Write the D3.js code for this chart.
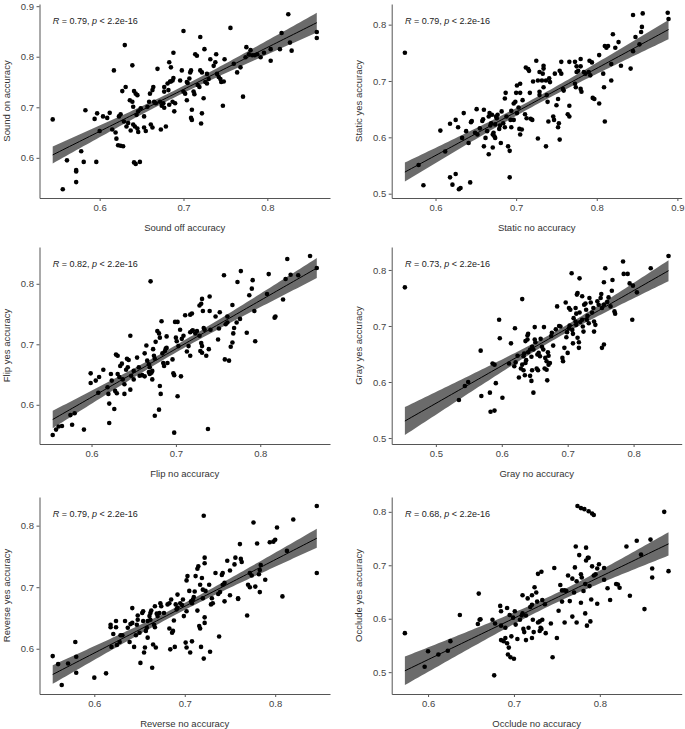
<!DOCTYPE html>
<html><head><meta charset="utf-8">
<script src="https://cdn.jsdelivr.net/npm/d3@7"></script>
<style>
body{margin:0;background:#fff;}
svg{display:block;font-family:"Liberation Sans",Arial,sans-serif;}
</style></head>
<body><svg id="chart" width="685" height="729"></svg>
<script>
// ---------- DATA ----------
const soundOff = [0.544,0.556,0.561,0.572,0.572,0.572,0.578,0.581,0.583,0.594,0.596,0.597,0.600,0.604,0.609,0.612,0.617,0.615,0.619,0.620,0.622,0.625,0.628,0.623,0.625,0.627,0.630,0.631,0.629,0.632,0.634,0.637,0.639,0.636,0.639,0.640,0.641,0.643,0.645,0.641,0.643,0.648,0.640,0.642,0.645,0.646,0.644,0.646,0.649,0.653,0.653,0.655,0.657,0.659,0.660,0.663,0.664,0.661,0.663,0.665,0.667,0.669,0.672,0.674,0.676,0.677,0.673,0.677,0.677,0.679,0.681,0.682,0.683,0.685,0.684,0.685,0.687,0.688,0.683,0.687,0.689,0.690,0.688,0.696,0.698,0.700,0.700,0.702,0.704,0.705,0.704,0.707,0.708,0.709,0.710,0.710,0.709,0.712,0.713,0.714,0.716,0.717,0.719,0.720,0.720,0.722,0.721,0.722,0.724,0.725,0.726,0.728,0.730,0.728,0.732,0.736,0.738,0.739,0.740,0.742,0.744,0.745,0.748,0.747,0.749,0.756,0.760,0.764,0.768,0.771,0.774,0.775,0.778,0.780,0.782,0.785,0.788,0.792,0.796,0.804,0.804,0.815,0.817,0.825,0.827,0.829,0.859,0.859];
const soundOn = [0.676,0.538,0.595,0.576,0.573,0.552,0.613,0.592,0.694,0.677,0.592,0.688,0.653,0.682,0.679,0.689,0.773,0.656,0.650,0.638,0.625,0.624,0.623,0.682,0.686,0.732,0.823,0.740,0.672,0.662,0.669,0.654,0.783,0.714,0.711,0.701,0.732,0.727,0.724,0.591,0.588,0.592,0.666,0.662,0.658,0.651,0.685,0.692,0.698,0.682,0.660,0.653,0.701,0.711,0.727,0.734,0.740,0.666,0.660,0.711,0.708,0.776,0.711,0.703,0.708,0.699,0.656,0.740,0.731,0.662,0.747,0.734,0.789,0.779,0.751,0.751,0.753,0.758,0.705,0.711,0.692,0.708,0.808,0.753,0.773,0.851,0.731,0.727,0.750,0.748,0.714,0.757,0.769,0.773,0.695,0.675,0.679,0.731,0.726,0.805,0.802,0.744,0.740,0.839,0.773,0.769,0.668,0.688,0.718,0.815,0.750,0.747,0.756,0.766,0.795,0.782,0.789,0.805,0.766,0.760,0.756,0.750,0.751,0.703,0.795,0.857,0.786,0.769,0.779,0.721,0.799,0.819,0.805,0.813,0.803,0.803,0.805,0.799,0.808,0.792,0.815,0.815,0.847,0.884,0.828,0.812,0.849,0.837];

const staticNo = [0.562,0.579,0.585,0.606,0.612,0.618,0.618,0.621,0.625,0.625,0.628,0.629,0.631,0.633,0.635,0.638,0.641,0.643,0.644,0.645,0.649,0.651,0.652,0.655,0.658,0.659,0.660,0.660,0.662,0.664,0.666,0.666,0.667,0.668,0.669,0.670,0.671,0.671,0.672,0.673,0.674,0.674,0.675,0.676,0.677,0.679,0.680,0.681,0.682,0.684,0.686,0.686,0.687,0.688,0.690,0.692,0.692,0.693,0.694,0.694,0.697,0.697,0.699,0.700,0.701,0.701,0.703,0.704,0.705,0.707,0.705,0.705,0.708,0.711,0.713,0.712,0.715,0.716,0.717,0.718,0.720,0.721,0.725,0.727,0.729,0.727,0.729,0.729,0.732,0.733,0.734,0.734,0.734,0.737,0.738,0.739,0.737,0.740,0.741,0.742,0.746,0.747,0.748,0.750,0.752,0.752,0.753,0.754,0.754,0.756,0.756,0.758,0.759,0.764,0.766,0.766,0.766,0.773,0.775,0.773,0.774,0.775,0.777,0.780,0.780,0.780,0.781,0.784,0.786,0.790,0.792,0.791,0.794,0.795,0.797,0.803,0.803,0.808,0.809,0.810,0.810,0.812,0.814,0.818,0.818,0.820,0.823,0.827,0.830,0.842,0.845,0.845,0.848,0.853,0.855,0.856,0.857,0.888,0.889];
const staticYes = [0.750,0.551,0.515,0.612,0.575,0.624,0.529,0.516,0.631,0.535,0.618,0.508,0.510,0.599,0.643,0.611,0.590,0.520,0.627,0.629,0.608,0.650,0.605,0.616,0.629,0.632,0.584,0.649,0.599,0.611,0.570,0.637,0.643,0.621,0.625,0.640,0.582,0.605,0.608,0.602,0.599,0.623,0.637,0.634,0.640,0.615,0.621,0.590,0.646,0.625,0.618,0.669,0.679,0.637,0.584,0.576,0.529,0.631,0.618,0.647,0.660,0.631,0.663,0.679,0.692,0.643,0.653,0.615,0.605,0.614,0.679,0.695,0.666,0.641,0.634,0.724,0.721,0.718,0.679,0.633,0.631,0.699,0.736,0.701,0.716,0.598,0.681,0.675,0.701,0.713,0.727,0.722,0.689,0.701,0.675,0.663,0.584,0.628,0.705,0.698,0.637,0.631,0.713,0.657,0.668,0.618,0.625,0.596,0.718,0.713,0.734,0.686,0.683,0.641,0.637,0.656,0.734,0.734,0.726,0.695,0.689,0.716,0.718,0.726,0.739,0.686,0.681,0.716,0.713,0.716,0.710,0.736,0.733,0.670,0.668,0.746,0.660,0.713,0.689,0.628,0.762,0.759,0.762,0.701,0.730,0.783,0.759,0.769,0.727,0.722,0.753,0.817,0.778,0.765,0.787,0.796,0.820,0.821,0.810];

const flipNo = [0.554,0.558,0.561,0.565,0.575,0.577,0.580,0.591,0.599,0.599,0.605,0.609,0.614,0.608,0.619,0.620,0.621,0.621,0.623,0.624,0.627,0.628,0.630,0.629,0.631,0.631,0.633,0.634,0.636,0.637,0.639,0.639,0.641,0.643,0.642,0.644,0.646,0.646,0.647,0.650,0.650,0.654,0.656,0.657,0.660,0.663,0.663,0.665,0.666,0.668,0.669,0.668,0.669,0.671,0.672,0.670,0.672,0.673,0.674,0.675,0.675,0.676,0.678,0.680,0.681,0.680,0.681,0.682,0.683,0.684,0.685,0.686,0.687,0.688,0.689,0.689,0.690,0.696,0.697,0.698,0.698,0.700,0.701,0.699,0.702,0.702,0.703,0.705,0.706,0.707,0.709,0.711,0.713,0.715,0.717,0.719,0.720,0.717,0.719,0.717,0.723,0.725,0.728,0.730,0.731,0.728,0.730,0.731,0.729,0.731,0.732,0.733,0.734,0.736,0.738,0.739,0.740,0.740,0.741,0.747,0.750,0.751,0.752,0.757,0.758,0.759,0.761,0.761,0.763,0.765,0.767,0.768,0.769,0.767,0.772,0.773,0.776,0.777,0.784,0.787,0.790,0.791,0.793,0.794,0.808,0.810,0.817,0.818,0.827,0.830,0.832,0.836,0.845,0.859,0.867];
const flipYes = [0.550,0.559,0.564,0.565,0.583,0.567,0.586,0.559,0.652,0.636,0.640,0.646,0.658,0.620,0.629,0.618,0.602,0.570,0.651,0.640,0.593,0.623,0.619,0.683,0.681,0.651,0.646,0.664,0.668,0.642,0.634,0.618,0.658,0.662,0.676,0.674,0.714,0.625,0.648,0.656,0.642,0.678,0.662,0.648,0.649,0.647,0.685,0.698,0.673,0.667,0.662,0.654,0.651,0.653,0.656,0.804,0.642,0.692,0.681,0.676,0.582,0.704,0.722,0.718,0.711,0.592,0.631,0.618,0.738,0.685,0.669,0.664,0.689,0.693,0.694,0.713,0.669,0.675,0.652,0.649,0.554,0.711,0.705,0.737,0.737,0.614,0.697,0.724,0.647,0.709,0.714,0.748,0.688,0.697,0.720,0.722,0.723,0.749,0.751,0.681,0.718,0.722,0.764,0.767,0.775,0.714,0.702,0.697,0.689,0.686,0.755,0.727,0.724,0.681,0.560,0.692,0.779,0.755,0.724,0.746,0.708,0.726,0.753,0.814,0.675,0.733,0.736,0.746,0.673,0.696,0.703,0.718,0.727,0.765,0.736,0.803,0.742,0.821,0.719,0.781,0.792,0.806,0.755,0.705,0.783,0.816,0.744,0.746,0.774,0.808,0.841,0.815,0.814,0.846,0.826];

const grayNo = [0.453,0.535,0.544,0.549,0.568,0.569,0.582,0.583,0.586,0.589,0.589,0.591,0.596,0.597,0.601,0.611,0.614,0.619,0.620,0.621,0.624,0.626,0.629,0.631,0.633,0.631,0.633,0.634,0.635,0.636,0.637,0.636,0.639,0.639,0.640,0.640,0.643,0.643,0.645,0.645,0.646,0.646,0.648,0.648,0.650,0.650,0.651,0.653,0.655,0.654,0.656,0.658,0.659,0.661,0.663,0.664,0.665,0.666,0.668,0.668,0.669,0.670,0.671,0.671,0.673,0.675,0.676,0.678,0.682,0.684,0.687,0.689,0.692,0.693,0.695,0.697,0.698,0.699,0.702,0.703,0.700,0.702,0.704,0.706,0.707,0.708,0.708,0.709,0.712,0.713,0.712,0.713,0.714,0.715,0.715,0.717,0.717,0.718,0.718,0.719,0.722,0.723,0.722,0.724,0.725,0.727,0.728,0.729,0.730,0.732,0.733,0.735,0.737,0.739,0.740,0.740,0.742,0.745,0.747,0.750,0.751,0.752,0.755,0.752,0.755,0.755,0.757,0.760,0.762,0.765,0.767,0.768,0.771,0.772,0.784,0.785,0.791,0.794,0.799,0.798,0.805,0.826,0.853];
const grayYes = [0.769,0.568,0.593,0.600,0.656,0.575,0.581,0.547,0.633,0.631,0.549,0.598,0.711,0.678,0.572,0.633,0.669,0.628,0.696,0.635,0.647,0.608,0.624,0.631,0.621,0.748,0.646,0.651,0.612,0.634,0.639,0.673,0.676,0.683,0.686,0.653,0.658,0.611,0.602,0.645,0.621,0.663,0.658,0.581,0.698,0.676,0.671,0.624,0.621,0.649,0.652,0.646,0.677,0.663,0.658,0.698,0.624,0.643,0.637,0.622,0.603,0.653,0.647,0.631,0.634,0.682,0.688,0.665,0.694,0.735,0.700,0.699,0.643,0.637,0.661,0.742,0.680,0.689,0.696,0.701,0.652,0.732,0.729,0.794,0.693,0.686,0.669,0.714,0.732,0.722,0.708,0.702,0.756,0.759,0.679,0.671,0.661,0.785,0.724,0.707,0.711,0.699,0.753,0.690,0.738,0.740,0.729,0.711,0.718,0.705,0.750,0.742,0.724,0.732,0.708,0.690,0.702,0.744,0.738,0.750,0.757,0.732,0.738,0.661,0.667,0.778,0.803,0.743,0.751,0.735,0.763,0.782,0.726,0.722,0.815,0.793,0.793,0.776,0.772,0.711,0.760,0.803,0.825];

const reverseNo = [0.554,0.560,0.564,0.571,0.579,0.580,0.580,0.600,0.613,0.618,0.618,0.619,0.621,0.624,0.624,0.625,0.628,0.629,0.631,0.634,0.637,0.639,0.640,0.642,0.642,0.644,0.646,0.647,0.648,0.648,0.650,0.651,0.653,0.654,0.654,0.655,0.656,0.657,0.658,0.659,0.659,0.661,0.662,0.662,0.663,0.664,0.665,0.666,0.667,0.667,0.668,0.669,0.670,0.672,0.673,0.674,0.677,0.681,0.683,0.683,0.684,0.685,0.686,0.687,0.688,0.689,0.690,0.691,0.692,0.692,0.695,0.697,0.698,0.699,0.701,0.702,0.702,0.702,0.703,0.705,0.706,0.708,0.707,0.708,0.709,0.710,0.711,0.712,0.714,0.715,0.714,0.716,0.717,0.717,0.719,0.718,0.720,0.720,0.721,0.721,0.722,0.722,0.722,0.722,0.723,0.727,0.728,0.729,0.730,0.731,0.734,0.737,0.738,0.739,0.741,0.742,0.742,0.744,0.744,0.747,0.750,0.750,0.755,0.756,0.759,0.759,0.761,0.762,0.763,0.769,0.770,0.772,0.772,0.774,0.776,0.778,0.780,0.782,0.783,0.783,0.784,0.789,0.794,0.798,0.800,0.802,0.808,0.813,0.820,0.846,0.846];
const reverseYes = [0.588,0.575,0.541,0.576,0.611,0.587,0.561,0.553,0.560,0.639,0.635,0.603,0.624,0.645,0.635,0.606,0.611,0.622,0.622,0.645,0.634,0.611,0.640,0.642,0.666,0.603,0.622,0.639,0.647,0.654,0.626,0.577,0.658,0.661,0.645,0.594,0.602,0.629,0.634,0.618,0.645,0.653,0.647,0.658,0.662,0.569,0.607,0.639,0.635,0.669,0.602,0.657,0.653,0.658,0.674,0.669,0.658,0.672,0.674,0.633,0.599,0.680,0.626,0.629,0.646,0.603,0.672,0.664,0.667,0.688,0.674,0.671,0.680,0.653,0.610,0.602,0.661,0.711,0.718,0.694,0.594,0.612,0.677,0.674,0.680,0.684,0.693,0.718,0.730,0.734,0.662,0.637,0.633,0.704,0.715,0.603,0.696,0.682,0.816,0.584,0.642,0.651,0.739,0.748,0.694,0.704,0.595,0.672,0.682,0.674,0.723,0.689,0.620,0.692,0.720,0.723,0.704,0.707,0.677,0.743,0.727,0.687,0.737,0.748,0.682,0.681,0.770,0.746,0.741,0.654,0.704,0.700,0.723,0.719,0.805,0.701,0.771,0.721,0.728,0.692,0.736,0.712,0.773,0.774,0.777,0.797,0.685,0.759,0.810,0.832,0.723];

const occludeNo = [0.573,0.596,0.600,0.612,0.623,0.626,0.637,0.659,0.658,0.660,0.661,0.675,0.678,0.677,0.684,0.685,0.685,0.685,0.688,0.690,0.690,0.692,0.692,0.694,0.693,0.696,0.695,0.697,0.699,0.700,0.701,0.702,0.704,0.707,0.709,0.710,0.710,0.711,0.712,0.714,0.714,0.716,0.717,0.719,0.721,0.721,0.721,0.722,0.723,0.724,0.726,0.727,0.728,0.732,0.728,0.730,0.733,0.730,0.731,0.732,0.733,0.736,0.737,0.743,0.745,0.747,0.750,0.752,0.754,0.756,0.756,0.759,0.761,0.759,0.763,0.765,0.768,0.768,0.770,0.771,0.772,0.773,0.773,0.774,0.776,0.778,0.778,0.778,0.779,0.781,0.782,0.783,0.783,0.784,0.784,0.785,0.786,0.787,0.787,0.788,0.789,0.790,0.791,0.793,0.791,0.793,0.795,0.797,0.797,0.799,0.805,0.805,0.809,0.812,0.819,0.821,0.823,0.831,0.835,0.843,0.848,0.852,0.859,0.861,0.861,0.875,0.880];
const occludeYes = [0.573,0.510,0.539,0.533,0.540,0.558,0.607,0.647,0.590,0.598,0.599,0.598,0.591,0.494,0.624,0.614,0.587,0.560,0.558,0.564,0.583,0.620,0.554,0.546,0.533,0.528,0.607,0.567,0.602,0.525,0.614,0.589,0.562,0.598,0.606,0.610,0.644,0.581,0.575,0.606,0.560,0.638,0.583,0.622,0.626,0.564,0.644,0.598,0.575,0.659,0.649,0.632,0.684,0.688,0.593,0.595,0.598,0.577,0.583,0.581,0.635,0.627,0.573,0.591,0.528,0.695,0.564,0.615,0.663,0.653,0.632,0.653,0.652,0.593,0.681,0.633,0.675,0.604,0.649,0.696,0.735,0.670,0.593,0.811,0.719,0.807,0.630,0.683,0.677,0.652,0.805,0.665,0.610,0.733,0.709,0.587,0.714,0.714,0.801,0.661,0.595,0.636,0.797,0.794,0.698,0.681,0.683,0.694,0.628,0.702,0.695,0.673,0.657,0.635,0.665,0.664,0.658,0.735,0.643,0.746,0.720,0.618,0.748,0.677,0.694,0.800,0.689];

const xLabels = ["Sound off accuracy","Static no accuracy","Flip no accuracy","Gray no accuracy","Reverse no accuracy","Occlude no accuracy"];
const yLabels = ["Sound on accuracy","Static yes accuracy","Flip yes accuracy","Gray yes accuracy","Reverse yes accuracy","Occlude yes accuracy"];
const rValues = ["0.79","0.79","0.82","0.73","0.79","0.68"];
const pLabel = "2.2e-16";
const xTickValues = [[0.6,0.7,0.8],[0.6,0.7,0.8,0.9],[0.6,0.7,0.8],[0.5,0.6,0.7,0.8],[0.6,0.7,0.8],[0.6,0.7,0.8]];
const yTickValues = [[0.6,0.7,0.8,0.9],[0.5,0.6,0.7,0.8],[0.6,0.7,0.8],[0.5,0.6,0.7,0.8],[0.6,0.7,0.8],[0.5,0.6,0.7,0.8]];
const xSeries = [soundOff, staticNo, flipNo, grayNo, reverseNo, occludeNo];
const ySeries = [soundOn, staticYes, flipYes, grayYes, reverseYes, occludeYes];

// ---------- LAYOUT ----------
const colL = [39.5, 391.7], colR = [330, 681.7];
const rowT = [4, 247, 497], rowB = [198, 444, 694];

function fitLm(xs, ys) {
  const n = Math.min(xs.length, ys.length);
  const X = xs.slice(0, n), Y = ys.slice(0, n);
  const mx = d3.mean(X), my = d3.mean(Y);
  let sxx = 0, sxy = 0;
  for (let i = 0; i < n; i++) { sxx += (X[i]-mx)**2; sxy += (X[i]-mx)*(Y[i]-my); }
  const b = sxy / sxx, a = my - b * mx;
  let sse = 0;
  for (let i = 0; i < n; i++) sse += (Y[i] - a - b*X[i])**2;
  const df = n - 2, s = Math.sqrt(sse / df);
  const z = 1.959964, t = z + (z**3 + z) / (4*df);
  const [x0, x1] = d3.extent(X);
  const grid = d3.range(80).map(i => {
    const x = x0 + (x1 - x0) * i / 79;
    const yh = a + b*x;
    const se = s * Math.sqrt(1/n + (x-mx)**2 / sxx);
    return {x, y: yh, lo: yh - t*se, hi: yh + t*se};
  });
  return {X, Y, grid};
}

const svg = d3.select("#chart");
const fmt = d3.format(".1f");

for (let k = 0; k < 6; k++) {
  const col = k % 2, row = Math.floor(k / 2);
  const L = colL[col], R = colR[col], T = rowT[row], B = rowB[row];
  const {X, Y, grid} = fitLm(xSeries[k], ySeries[k]);
  const xe = d3.extent(X), xp = (xe[1]-xe[0]) * 0.05;
  const ye = [Math.min(d3.min(Y), d3.min(grid, d => d.lo)), Math.max(d3.max(Y), d3.max(grid, d => d.hi))];
  const yp = (ye[1]-ye[0]) * 0.05;
  const x = d3.scaleLinear().domain([xe[0]-xp, xe[1]+xp]).range([L, R]);
  const y = d3.scaleLinear().domain([ye[0]-yp, ye[1]+yp]).range([B, T]);
  const g = svg.append("g");

  // points
  g.append("g").selectAll("circle").data(X.map((v,i)=>[v,Y[i]])).join("circle")
    .attr("cx", d => x(d[0])).attr("cy", d => y(d[1])).attr("r", 2.3).attr("fill", "#000");

  // confidence band + regression line
  g.append("path").datum(grid)
    .attr("d", d3.area().x(d => x(d.x)).y0(d => y(d.lo)).y1(d => y(d.hi)))
    .attr("fill", "#000").attr("fill-opacity", 0.58);
  g.append("path").datum(grid)
    .attr("d", d3.line().x(d => x(d.x)).y(d => y(d.y)))
    .attr("fill", "none").attr("stroke", "#000").attr("stroke-width", 1);

  // axes
  const xd = x.domain(), yd = y.domain();
  const xa = g.append("g").attr("transform", `translate(0,${B})`)
    .call(d3.axisBottom(x).tickValues(xTickValues[k].filter(v => v >= xd[0] && v <= xd[1]))
      .tickFormat(fmt).tickSize(3).tickSizeOuter(0).tickPadding(3));
  const ya = g.append("g").attr("transform", `translate(${L},0)`)
    .call(d3.axisLeft(y).tickValues(yTickValues[k].filter(v => v >= yd[0] && v <= yd[1]))
      .tickFormat(fmt).tickSize(3).tickSizeOuter(0).tickPadding(2.5));
  [xa, ya].forEach(a => {
    a.select(".domain").attr("stroke", "#555").attr("stroke-width", 1);
    a.selectAll(".tick line").attr("stroke", "#555");
    a.selectAll(".tick text").attr("fill", "#444").style("font-size", "9.5px")
      .style("font-family", "'Liberation Sans', Arial, sans-serif");
  });

  // axis titles
  g.append("text").attr("x", (L + R) / 2).attr("y", B + 33).attr("text-anchor", "middle")
    .attr("fill", "#333").style("font-size", "9.5px").text(xLabels[k]);
  g.append("text").attr("transform", `translate(${L - 30},${(T + B) / 2}) rotate(-90)`)
    .attr("text-anchor", "middle").attr("fill", "#333").style("font-size", "9.5px").text(yLabels[k]);

  // annotation
  const ann = g.append("text").attr("x", x(xe[0])).attr("y", T + 20)
    .attr("fill", "#222").style("font-size", "9px");
  ann.append("tspan").style("font-style", "italic").text("R");
  ann.append("tspan").text(` = ${rValues[k]}, `);
  ann.append("tspan").style("font-style", "italic").text("p");
  ann.append("tspan").text(` < ${pLabel}`);
}
</script></body></html>
